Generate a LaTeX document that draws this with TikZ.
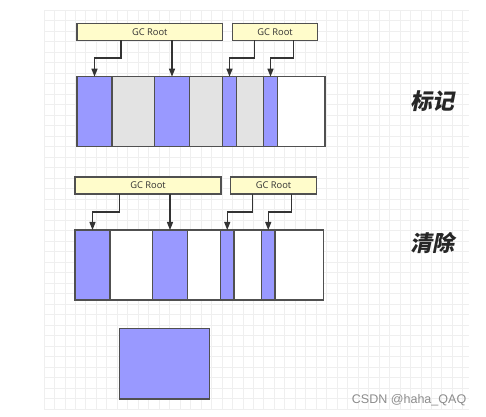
\documentclass[tikz,border=0pt]{standalone}
\usepackage{fontspec}
\usepackage{tikz}
\usetikzlibrary{positioning,calc,arrows.meta}
\usepackage{xcolor}

\newfontfamily\uifont{Open Sans}
\newfontfamily\cjkfont[FakeSlant=0.2]{Noto Sans CJK SC}
\newfontfamily\markfont{Liberation Sans}

\definecolor{liveblue}{HTML}{9999FF}
\definecolor{deadgray}{HTML}{E3E3E3}
\definecolor{rootyellow}{HTML}{FFFCCB}
\definecolor{edgegray}{HTML}{505050}
\definecolor{gridgray}{HTML}{EFEFEF}

\newcommand{\px}{0.75pt}

\begin{document}
\begin{tikzpicture}[
x=0.75pt, y=-0.75pt,
% 设定样式
seg/.style={rectangle, draw=edgegray, line width=1pt, minimum height=70*\px, inner sep=0pt, outer sep=0pt},
live/.style={seg, fill=liveblue},
dead/.style={seg, fill=deadgray},
empty/.style={seg, fill=white},
gcbox/.style={rectangle, draw=edgegray, line width=1pt, fill=rootyellow, minimum height=17*\px, inner sep=0pt, outer sep=0pt, font=\uifont\fontsize{7}{8}\selectfont, text=black!80},
link/.style={draw=black!80, line width=0.9pt, -{Triangle[length=6pt,width=4.5pt]}},
phase/.style={font=\cjkfont\bfseries\fontsize{16.5}{18}\selectfont, text=black!85},
gridline/.style={draw=gridgray, line width=0.6pt},
]
\useasboundingbox (0,0) rectangle (486,417);

%Grid
\foreach \gx in {0,...,40} \draw[gridline] (44+\gx*10.47,10) -- (44+\gx*10.47,409);
\foreach \gy in {0,...,38} \draw[gridline] (44,10+\gy*10.5) -- (469,10+\gy*10.5);

%标记:Nodes
\node[live, minimum width=35*\px, anchor=north west] (m1) at (77,76.7) {};
\node[dead, minimum width=42.5*\px] (m2) [right=0pt of m1] {};
\node[live, minimum width=35*\px]   (m3) [right=0pt of m2] {};
\node[dead, minimum width=33*\px]   (m4) [right=0pt of m3] {};
\node[live, minimum width=14*\px]   (m5) [right=0pt of m4] {};
\node[dead, minimum width=27*\px]   (m6) [right=0pt of m5] {};
\node[live, minimum width=14*\px]   (m7) [right=0pt of m6] {};
\node[empty, minimum width=47.5*\px] (m8) [right=0pt of m7] {};

\node[gcbox, minimum width=145.5*\px, anchor=north west] (ga1) at (77,23.5) {GC Root};
\node[gcbox, minimum width=85*\px, anchor=north west]    (ga2) at (232.5,23.5) {GC Root};

\node[phase] (mark) at (432.5,101) {标记};

%Lines
\draw[link] ($(ga1.south west)+(44,0)$) -- ++(0,17.5) -| (m1.north);
\draw[link] (m3.north |- ga1.south) -- (m3.north);
\draw[link] ($(ga2.south west)+(22,0)$) -- ++(0,17.5) -| (m5.north);
\draw[link] ($(ga2.south west)+(61,0)$) -- ++(0,17.5) -| (m7.north);

%清除:Nodes
\node[live, minimum width=35*\px, anchor=north west] (s1) at (75,230) {};
\node[empty, minimum width=42.5*\px] (s2) [right=0pt of s1] {};
\node[live, minimum width=35*\px]    (s3) [right=0pt of s2] {};
\node[empty, minimum width=33*\px]   (s4) [right=0pt of s3] {};
\node[live, minimum width=13.5*\px]  (s5) [right=0pt of s4] {};
\node[empty, minimum width=27.5*\px] (s6) [right=0pt of s5] {};
\node[live, minimum width=13.5*\px]  (s7) [right=0pt of s6] {};
\node[empty, minimum width=48.5*\px] (s8) [right=0pt of s7] {};

\node[gcbox, minimum width=146*\px, anchor=north west] (gb1) at (75,177) {GC Root};
\node[gcbox, minimum width=86*\px, anchor=north west]  (gb2) at (230.5,177) {GC Root};

\node[phase] (sweep) at (432.5,242.5) {清除};

%Lines
\draw[link] ($(gb1.south west)+(44.3,0)$) -- ++(0,18) -| (s1.north);
\draw[link] (s3.north |- gb1.south) -- (s3.north);
\draw[link] ($(gb2.south west)+(21.8,0)$) -- ++(0,18) -| (s5.north);
\draw[link] ($(gb2.south west)+(61.2,0)$) -- ++(0,18) -| (s7.north);

%单独的块
\node[live, minimum width=90*\px, minimum height=70.7*\px, anchor=north west] (blk) at (119.3,328.3) {};

\node[font=\markfont\fontsize{9.4}{10}\selectfont, text=black!45, anchor=east] (wm) at (471,400) {CSDN @haha\_QAQ};

\end{tikzpicture}
\end{document}
